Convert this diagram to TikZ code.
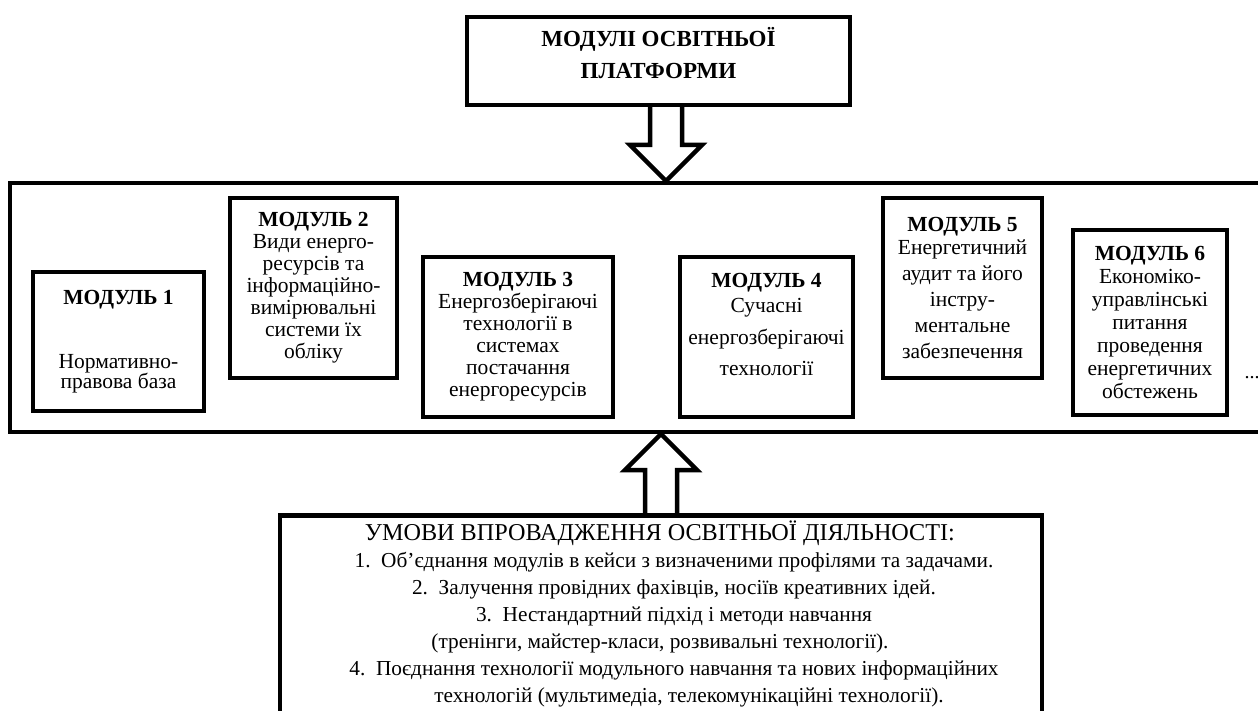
\documentclass[tikz,border=0pt]{standalone}
\usepackage{fontspec}
\setmainfont{Liberation Serif}
\usetikzlibrary{calc}

\tikzset{
  box/.style={draw, line width=4.5pt, inner sep=0pt, align=center},
  modbox/.style={box, font=\fontsize{21.5}{22}\selectfont},
  hollow/.style={draw, line width=4.5pt, line join=miter},
}
\newcommand{\modtitle}[1]{\textbf{МОДУЛЬ~#1}}

\begin{document}
\begin{tikzpicture}[x=1pt,y=-1pt,line join=miter]
\useasboundingbox (0,0) rectangle (1258,711);
\clip (0,0) rectangle (1258,711);

% top block
\node[box, minimum width=383pt, minimum height=88pt] (top) at (658.5,61) {};
\node[font=\bfseries\fontsize{23}{32}\selectfont, align=center] (toptitle) at (658.5,53) {МОДУЛІ ОСВІТНЬОЇ\\ПЛАТФОРМИ};

% platform frame
\node[box, line width=4pt, minimum width=1260pt, minimum height=249pt] (platform) at (640,307.5) {};

% modules
\node[modbox, font=\fontsize{21.5}{20}\selectfont, minimum width=171pt, minimum height=139pt] (m1) at (118.5,341.5)
  {\modtitle{1}\\[44pt]Нормативно-\\правова база};
\node[modbox, minimum width=167pt, minimum height=180pt] (m2) at (313.5,288)
  {\modtitle{2}\\Види енерго-\\ресурсів та\\інформаційно-\\вимірювальні\\системи їх\\обліку};
\node[modbox, minimum width=190pt, minimum height=160pt] (m3) at (518,337)
  {\modtitle{3}\\Енергозберігаючі\\технології в\\системах\\постачання\\енергоресурсів};
\node[modbox, minimum width=173pt, minimum height=160pt] (m4) at (766.5,337) {};
\node[font=\fontsize{21.5}{22}\selectfont, align=center] (m4txt) at ([yshift=13pt]m4.center)
  {\modtitle{4}\\[3pt]Сучасні\\[10pt]енергозберігаючі\\[9pt]технології};
\node[modbox, font=\fontsize{21.5}{26}\selectfont, minimum width=159pt, minimum height=180pt] (m5) at (962.5,288)
  {\modtitle{5}\\[-3pt]Енергетичний\\аудит та його\\інстру-\\ментальне\\забезпечення};
\node[modbox, font=\fontsize{21.5}{23}\selectfont, minimum width=154pt, minimum height=185pt] (m6) at (1150,322.5)
  {\modtitle{6}\\Економіко-\\управлінські\\питання\\проведення\\енергетичних\\обстежень};
\node[font=\fontsize{20}{22}\selectfont] (more) at (1252,378) {...};

% conditions block
\node[box, minimum width=762pt, minimum height=240pt, anchor=north] (cond) at (661,513) {};
\node[align=center, font=\fontsize{21.3}{27}\selectfont] (condtext) at (660,614)
  {{\fontsize{24.2}{27}\selectfont УМОВИ ВПРОВАДЖЕННЯ ОСВІТНЬОЇ ДІЯЛЬНОСТІ:}\\
   \hspace*{28pt}1.~~Об’єднання модулів в кейси з визначеними профілями та задачами.\\
   \hspace*{28pt}2.~~Залучення провідних фахівців, носіїв креативних ідей.\\
   \hspace*{28pt}3.~~Нестандартний підхід і методи навчання\\
   (тренінги, майстер-класи, розвивальні технології).\\
   \hspace*{28pt}4.~~Поєднання технології модульного навчання та нових інформаційних\\
   \hspace*{58pt}технологій (мультимедіа, телекомунікаційні технології).};

% block arrows
\coordinate (dx) at (666,0);
\coordinate (ux) at (661,0);
\draw[hollow] ($(top.south -| dx)+(-16,0)$) -- ($(platform.north -| dx)+(-16,-36)$)
  -- ($(platform.north -| dx)+(-36,-36)$) -- (platform.north -| dx)
  -- ($(platform.north -| dx)+(36,-36)$) -- ($(platform.north -| dx)+(16,-36)$)
  -- ($(top.south -| dx)+(16,0)$);
\draw[hollow] ($(cond.north -| ux)+(-16,0)$) -- ($(platform.south -| ux)+(-16,36)$)
  -- ($(platform.south -| ux)+(-36,36)$) -- (platform.south -| ux)
  -- ($(platform.south -| ux)+(36,36)$) -- ($(platform.south -| ux)+(16,36)$)
  -- ($(cond.north -| ux)+(16,0)$);
\end{tikzpicture}
\end{document}
